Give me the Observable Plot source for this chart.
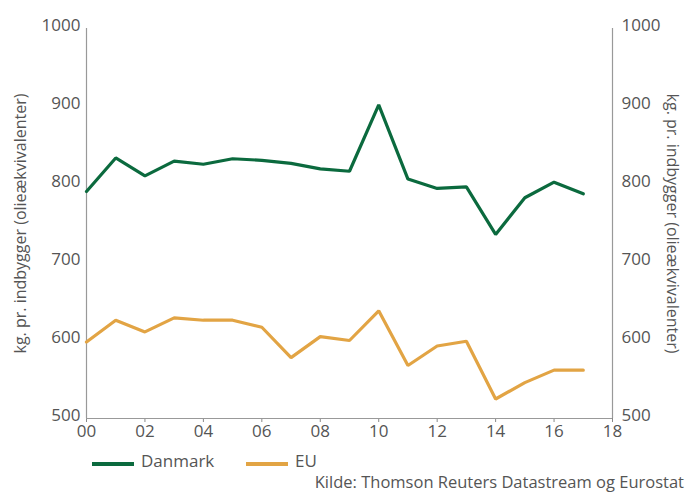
<!DOCTYPE html>
<html>
<head>
<meta charset="utf-8">
<script src="https://cdn.jsdelivr.net/npm/d3@7"></script>
<script src="https://cdn.jsdelivr.net/npm/@observablehq/plot@0.6"></script>
<style>
  body { margin: 0; background: #fff; font-family: "Open Sans", Lato, sans-serif; color: #555; }
  #wrap { width: 687px; height: 493px; position: relative; overflow: hidden; }
  #chart { position: absolute; left: 0; top: 0; }
  .item { position: absolute; top: 450px; height: 22px; line-height: 22px; font-size: 17px; display: flex; align-items: center; white-space: nowrap; }
  .sw { display: inline-block; width: 42px; height: 4px; margin-right: 7px; margin-top: 6px; }
  .caption { position: absolute; right: 3px; top: 472px; font-size: 16.5px; line-height: 20px; white-space: nowrap; }
</style>
</head>
<body>
<div id="wrap">
  <div id="chart"></div>
  <div class="item" style="left:92px"><span class="sw" style="background:#0b6a3e"></span>Danmark</div>
  <div class="item" style="left:246px"><span class="sw" style="background:#e2a444"></span>EU</div>
  <div class="caption">Kilde: Thomson Reuters Datastream og Eurostat</div>
</div>
<script>
const years = [0,1,2,3,4,5,6,7,8,9,10,11,12,13,14,15,16,17];
const danmark = [791,834,811,830,826,833,831,827,820,817,902,807,795,797,736,783,803,788];
const eu = [598,626,611,629,626,626,617,578,605,600,638,568,593,599,525,546,562,562];
const xTicks = [0,2,4,6,8,10,12,14,16,18];
const yTicks = [500,600,700,800,900,1000];
const yLabel = "kg. pr. indbygger (olieækvivalenter)";

const rows = years.flatMap((yr, i) => [
  {year: yr, value: danmark[i], series: "Danmark"},
  {year: yr, value: eu[i], series: "EU"}
]);

const chart = Plot.plot({
  width: 687,
  height: 446,
  marginTop: 28,
  marginBottom: 28,
  marginLeft: 86,
  marginRight: 75,
  style: {fontFamily: "'Open Sans', Lato, sans-serif", fontSize: "17px", color: "#555", background: "#fff"},
  x: {domain: [0, 18]},
  y: {domain: [500, 1000]},
  color: {domain: ["Danmark", "EU"], range: ["#0b6a3e", "#e2a444"]},
  marks: [
    Plot.axisY(yTicks, {anchor: "left", tickSize: 0, tickPadding: 6, label: null, fontSize: 17, dy: -3, tickFormat: d3.format("d")}),
    Plot.axisY(yTicks, {anchor: "right", tickSize: 0, tickPadding: 9, label: null, fontSize: 17, dy: -3, tickFormat: d3.format("d")}),
    Plot.axisX(xTicks, {anchor: "bottom", tickSize: 4, tickPadding: 2, label: null, fontSize: 17,
      tickFormat: d => String(d).padStart(2, "0"), stroke: "#888"}),
    Plot.ruleX([0, 18], {stroke: "#999", strokeWidth: 1.2}),
    Plot.ruleY([500], {stroke: "#999", strokeWidth: 1.2}),
    Plot.lineY(rows, {x: "year", y: "value", stroke: "series", strokeWidth: 3.2, strokeLinejoin: "miter"}),
    Plot.text([yLabel], {frameAnchor: "left", textAnchor: "middle", rotate: -90, dx: -66, fontSize: 16, fill: "#555"}),
    Plot.text([yLabel], {frameAnchor: "right", textAnchor: "middle", rotate: 90, dx: 60, fontSize: 16, fill: "#555"})
  ]
});
document.getElementById("chart").appendChild(chart);
</script>
</body>
</html>
